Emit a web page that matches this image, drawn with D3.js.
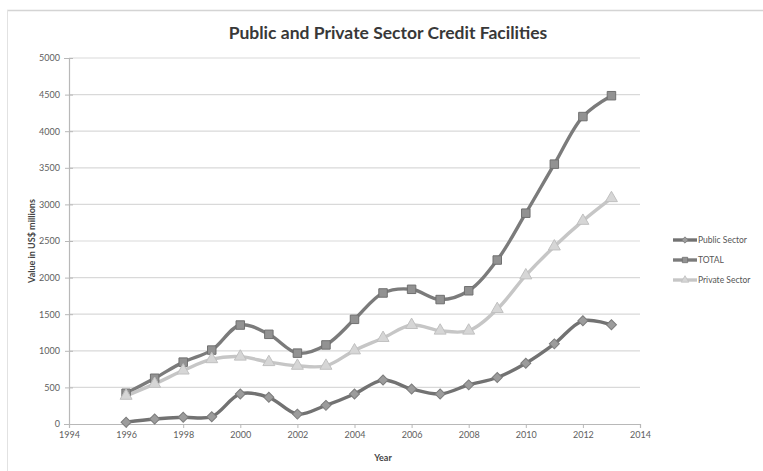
<!DOCTYPE html>
<html>
<head>
<meta charset="utf-8">
<script src="https://cdn.jsdelivr.net/npm/d3@7"></script>
<style>
  html, body { margin: 0; padding: 0; background: #fff; }
  svg { display: block; font-family: Lato, "Open Sans", sans-serif; }
</style>
</head>
<body>
<svg id="chart" width="763" height="471"></svg>
<script>
// Credit facilities by sector, US$ millions
const years = [1996, 1997, 1998, 1999, 2000, 2001, 2002, 2003, 2004, 2005,
               2006, 2007, 2008, 2009, 2010, 2011, 2012, 2013];
const publicSector  = [25, 68, 92, 100, 410, 365, 135, 255, 410, 600,
                       478, 410, 535, 635, 830, 1095, 1410, 1355];
const totalCredit   = [420, 625, 845, 1010, 1352, 1225, 968, 1080, 1430, 1790,
                       1840, 1700, 1820, 2240, 2880, 3550, 4200, 4485];
const privateSector = [385, 548, 730, 885, 920, 845, 795, 795, 1005, 1175,
                       1352, 1275, 1275, 1570, 2030, 2425, 2775, 3085];
const xTicks = [1994, 1996, 1998, 2000, 2002, 2004, 2006, 2008, 2010, 2012, 2014];
const yTicks = [0, 500, 1000, 1500, 2000, 2500, 3000, 3500, 4000, 4500, 5000];

// diamonds are squares turned by 45 degrees
const series = [
  { name: "Public Sector",  values: publicSector,  line: "#727272", fill: "#9c9c9c", stroke: "#7c7c7c", symbol: d3.symbolSquare, rot: 45, size: 50 },
  { name: "TOTAL",          values: totalCredit,   line: "#7b7b7b", fill: "#929292", stroke: "#707070", symbol: d3.symbolSquare, rot: 0, size: 72 },
  { name: "Private Sector", values: privateSector, line: "#c6c6c6", fill: "#d6d6d6", stroke: "#c0c0c0", symbol: d3.symbolTriangle, rot: 0, size: 62 }
];

const svg = d3.select("#chart");

// frame edges
svg.append("line").attr("x1", 7).attr("x2", 763).attr("y1", 10.5).attr("y2", 10.5)
  .attr("stroke", "#d4d4d4").attr("stroke-width", 1.5);
svg.append("line").attr("x1", 7.5).attr("x2", 7.5).attr("y1", 10).attr("y2", 471)
  .attr("stroke", "#e2e2e2").attr("stroke-width", 1);

const x = d3.scaleLinear().domain([1994, 2014]).range([69, 640]);
const y = d3.scaleLinear().domain([0, 5000]).range([424, 58]);

// horizontal gridlines
svg.append("g").selectAll("line").data(yTicks.filter(t => t > 0)).join("line")
  .attr("x1", x(1994)).attr("x2", x(2014))
  .attr("y1", d => y(d)).attr("y2", d => y(d))
  .attr("stroke", "#d9d9d9").attr("stroke-width", 1.2);

// axes
const yAxis = svg.append("g").attr("transform", `translate(${x(1994)},0)`)
  .call(d3.axisLeft(y).tickValues(yTicks).tickSize(5).tickPadding(4).tickFormat(d3.format("d")));
const xAxis = svg.append("g").attr("transform", `translate(0,${y(0)})`)
  .call(d3.axisBottom(x).tickValues(xTicks).tickSize(4).tickPadding(4).tickFormat(d3.format("d")));
[yAxis, xAxis].forEach(a => {
  a.select(".domain").attr("stroke", "#b8b8b8").attr("stroke-width", 1.2);
  a.selectAll(".tick line").attr("stroke", "#b8b8b8");
  a.selectAll("text").attr("fill", "#5e5e5e").style("font-size", "9px")
    .style("font-family", "Lato, 'Open Sans', sans-serif");
});
yAxis.selectAll(".tick line").attr("x2", 4).attr("x1", -4);

// series lines
const line = d3.line().x((d, i) => x(years[i])).y(d => y(d)).curve(d3.curveCatmullRom.alpha(0.5));
series.forEach(s => {
  svg.append("path").datum(s.values)
    .attr("fill", "none").attr("stroke", s.line).attr("stroke-width", 3.4)
    .attr("stroke-linejoin", "round").attr("stroke-linecap", "round")
    .attr("d", line);
});
series.forEach(s => {
  svg.append("g").selectAll("path").data(s.values).join("path")
    .attr("transform", (d, i) => `translate(${x(years[i])},${y(d)}) rotate(${s.rot})`)
    .attr("d", d3.symbol().type(s.symbol).size(s.size))
    .attr("fill", s.fill).attr("stroke", s.stroke).attr("stroke-width", 1);
});

// title and axis titles
svg.append("text").attr("x", 388).attr("y", 39).attr("text-anchor", "middle")
  .attr("fill", "#383838").style("font-size", "17.5px").style("font-weight", "bold")
  .text("Public and Private Sector Credit Facilities");
svg.append("text").attr("x", 383).attr("y", 461).attr("text-anchor", "middle")
  .attr("fill", "#444").style("font-size", "9px").style("font-weight", "bold")
  .text("Year");
svg.append("text").attr("transform", "translate(35,241) rotate(-90)").attr("text-anchor", "middle")
  .attr("fill", "#444").style("font-size", "9px").style("font-weight", "bold")
  .text("Value in US$ millions");

// legend
const legend = svg.append("g").attr("transform", "translate(673,240)");
series.forEach((s, i) => {
  const g = legend.append("g").attr("transform", `translate(0,${i * 20})`);
  g.append("line").attr("x1", 0).attr("x2", 24).attr("stroke", s.line).attr("stroke-width", 3.4);
  g.append("path").attr("transform", `translate(12,0) rotate(${s.rot})`)
    .attr("d", d3.symbol().type(s.symbol).size(s.size * 0.4))
    .attr("fill", s.fill).attr("stroke", s.stroke).attr("stroke-width", 0.8);
  g.append("text").attr("x", 25).attr("y", 3).attr("fill", "#555")
    .style("font-size", "8.5px").text(s.name);
});
</script>
</body>
</html>
